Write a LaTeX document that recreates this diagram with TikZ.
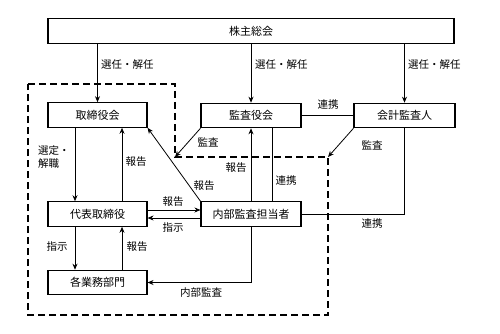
\documentclass[tikz,border=0pt]{standalone}
\usepackage{fontspec}
\setmainfont{Noto Sans CJK JP}
\usetikzlibrary{arrows.meta,calc}
\begin{document}
\begin{tikzpicture}[x=1pt,y=-1pt,
  box/.style={draw,line width=1.1pt,minimum height=24.5pt,inner sep=0pt,font=\fontsize{11}{12}\selectfont},
  conn/.style={line width=0.8pt},
  arr/.style={conn,-{Stealth[length=6pt,width=5pt]}},
  lbl/.style={font=\fontsize{10.5}{12.5}\selectfont,inner sep=0pt},
  bound/.style={line width=2.2pt,dash pattern=on 7pt off 4pt}]
\useasboundingbox (0,0) rectangle (500,334);
% dashed boundary
\coordinate (d1) at (28,84);
\coordinate (d2) at (175,84);
\coordinate (d3) at (175,157);
\coordinate (d4) at (328,157);
\coordinate (d5) at (328,315);
\coordinate (d6) at (28,315);
\draw[bound] (d1) -- (d2) -- (d3) -- (d4) -- (d5) -- (d6) -- cycle;
% boxes
\node[box,minimum width=406pt] (kabu) at (251,31) {株主総会};
\node[box,minimum width=99pt] (tor) at (97.5,115) {取締役会};
\node[box,minimum width=100pt] (kan) at (251,115.5) {監査役会};
\node[box,minimum width=101pt] (kai) at (404.5,115.5) {会計監査人};
\node[box,minimum width=99pt] (dai) at (97.5,214) {代表取締役};
\node[box,minimum width=100pt] (nai) at (251,214) {内部監査担当者};
\node[box,minimum width=99pt] (kak) at (97.5,282.5) {各業務部門};
% from shareholders
\draw[arr] (kabu.south -| tor.north) -- (tor.north);
\draw[arr] (kabu.south -| kan.north) -- (kan.north);
\draw[arr] (kabu.south -| kai.north) -- (kai.north);
\node[lbl,anchor=west] (l1) at (101,65) {選任・解任};
\node[lbl,anchor=west] (l2) at (255,65) {選任・解任};
\node[lbl,anchor=west] (l3) at (408,65) {選任・解任};
% kansayakukai - kaikei
\draw[conn] (kan.east) -- (kai.west);
\node[lbl] (l4) at (328,105) {連携};
% audits to dashed boundary
\draw[arr] (kai.south west) -- (d4);
\node[lbl] (l5) at (372,145) {監査};
\draw[arr] (kan.south west) -- (d3);
\node[lbl] (l6) at (208,142) {監査};
% torishimariyakukai - daihyo
\draw[arr] ([xshift=-22.5pt]tor.south) -- ([xshift=-22.5pt]dai.north);
\node[lbl,align=left,anchor=west] (l7) at (38,157) {選定・\\解職};
\draw[arr] ([xshift=24.5pt]dai.north) -- ([xshift=24.5pt]tor.south);
\node[lbl] (l8) at (136,162) {報告};
% naibu -> torishimariyakukai
\draw[arr] (nai.north west) -- (tor.south east);
\node[lbl] (l9) at (204,186) {報告};
% daihyo <-> naibu
\draw[arr] ([yshift=-4pt]nai.west) -- ([yshift=-4pt]dai.east);
\node[lbl] (l10) at (173,202) {報告};
\draw[arr] ([yshift=4pt]dai.east) -- ([yshift=4pt]nai.west);
\node[lbl] (l11) at (173,228) {指示};
% daihyo - kakugyomu
\draw[arr] ([xshift=-22.5pt]dai.south) -- ([xshift=-22.5pt]kak.north);
\node[lbl] (l12) at (57,247) {指示};
\draw[arr] ([xshift=24.5pt]kak.north) -- ([xshift=24.5pt]dai.south);
\node[lbl] (l13) at (137,247) {報告};
% naibu -> kakugyomu
\draw[arr] (nai.south) |- (kak.east);
\node[lbl] (l14) at (201,293) {内部監査};
% naibu -> kansayakukai
\draw[arr] (nai.north) -- (kan.south);
\node[lbl] (l15) at (236,168) {報告};
\draw[conn] ([xshift=21pt]kan.south) -- ([xshift=21pt]nai.north);
\node[lbl] (l16) at (286,181) {連携};
% kaikei - naibu
\draw[conn] (kai.south) |- (nai.east);
\node[lbl] (l17) at (372,224) {連携};
\end{tikzpicture}
\end{document}
